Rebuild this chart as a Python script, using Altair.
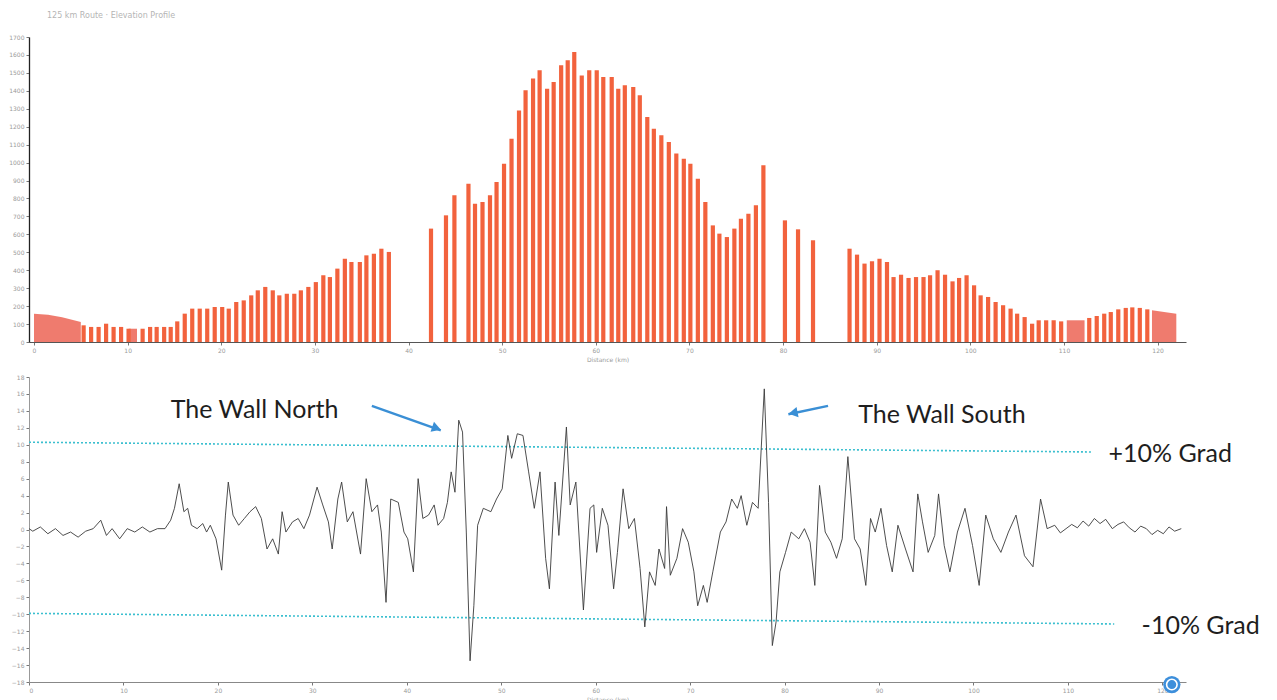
import altair as alt
import pandas as pd

# ---------------- elevation profile (top) ----------------
bar_km = [5.3, 6.1, 6.9, 7.7, 8.5, 9.3, 10.1, 11.6, 12.4, 13.1,
          13.9, 14.6, 15.3, 16.1, 16.9, 17.7, 18.5, 19.3, 20.1, 20.8,
          21.6, 22.4, 23.2, 23.9, 24.7, 25.5, 26.2, 27.0, 27.8, 28.5,
          29.3, 30.1, 30.9, 31.6, 32.4, 33.2, 33.9, 34.8, 35.5, 36.3,
          37.1, 37.9,
          42.4, 44.0, 44.9, 46.4, 47.1, 47.9, 48.7, 49.4, 50.2, 51.0,
          51.8, 52.5, 53.3, 54.0, 54.8, 55.5, 56.3, 57.0, 57.7, 58.5,
          59.3, 60.1, 60.8, 61.7, 62.4, 63.1, 64.0, 64.7, 65.5, 66.2,
          67.0, 67.8, 68.6, 69.4, 70.1, 70.9, 71.7, 72.5, 73.2, 74.0,
          74.8, 75.5, 76.3, 77.1, 77.9,
          80.2, 81.6, 83.2,
          87.1, 87.9, 88.7, 89.5, 90.3, 91.1, 91.8, 92.6, 93.4, 94.2,
          95.0, 95.7, 96.5, 97.3, 98.1, 98.8, 99.6, 100.4, 101.1, 101.9,
          102.7, 103.5, 104.3, 105.0, 105.8, 106.6, 107.3, 108.1, 108.9, 109.7,
          112.7, 113.5, 114.3, 115.0, 115.8, 116.6, 117.3, 118.1, 118.9]
bar_elev = [93, 84, 84, 102, 84, 84, 74, 74, 84, 84,
            84, 84, 115, 158, 186, 186, 186, 195, 195, 186,
            223, 232, 260, 288, 307, 288, 260, 269, 269, 288,
            307, 334, 372, 362, 409, 464, 446, 446, 483, 492,
            520, 502,
            632, 706, 818, 882, 771, 780, 818, 892, 994, 1133,
            1291, 1403, 1468, 1514, 1412, 1449, 1542, 1570, 1616, 1486,
            1514, 1514, 1477, 1477, 1412, 1431, 1421, 1375, 1254, 1189,
            1152, 1115, 1050, 1022, 994, 910, 780, 650, 604, 585,
            632, 687, 715, 762, 985,
            678, 628, 567,
            520, 487, 437, 450, 464, 446, 362, 375, 357, 362,
            362, 372, 400, 375, 338, 357, 372, 316, 260, 251,
            223, 205, 186, 158, 139, 102, 121, 121, 121, 115,
            134, 145, 158, 167, 182, 190, 193, 190, 182]

solid_seg = ["a", "a", "a", "a", "b", "b", "c", "c", "d", "d"]
solid_km = [0.0, 1.5, 3.0, 5.0, 10.1, 11.0, 110.3, 112.2, 119.4, 122.0]
solid_elev = [158, 152, 138, 112, 74, 74, 121, 121, 177, 158]

# ---------------- gradient (bottom) ----------------
grad_km = [0.0, 0.4, 1.2, 2.0, 2.8, 3.6, 4.4, 5.2, 6.0, 6.8,
           7.6, 8.2, 8.8, 9.6, 10.4, 11.2, 12.0, 12.8, 13.6, 14.4,
           15.0, 15.4, 15.9, 16.4, 16.8, 17.2, 17.8, 18.4, 18.8, 19.2,
           19.8, 20.4, 20.8, 21.1, 21.6, 22.2, 22.8, 23.4, 24.0, 24.6,
           25.2, 25.8, 26.4, 26.8, 27.2, 27.9, 28.5, 29.1, 29.7, 30.5,
           31.1, 31.7, 32.1, 32.7, 33.1, 33.7, 34.3, 35.1, 35.7, 36.3,
           36.9, 37.3, 37.8, 38.3, 39.1, 39.7, 40.1, 40.7, 41.2, 41.7,
           42.3, 42.9, 43.3, 43.9, 44.3, 44.7, 45.1, 45.5, 45.9, 46.3,
           46.7, 47.1, 47.5, 48.1, 48.9, 49.5, 50.1, 50.7, 51.1, 51.7,
           52.3, 52.9, 53.5, 54.1, 54.7, 55.1, 55.7, 56.1, 56.9, 57.3,
           57.9, 58.7, 59.4, 59.8,
           60.1, 60.7, 61.3, 61.9, 62.3, 62.9, 63.5, 64.1, 64.7, 65.2,
           65.7, 66.3, 66.7, 67.3, 67.5, 67.9, 68.6, 69.2, 69.8, 70.4,
           70.8, 71.4, 71.8, 72.4, 73.2, 73.8, 74.4, 75.0, 75.4, 76.0,
           76.6, 77.2, 77.85, 78.3, 78.7, 79.1, 79.5, 80.1, 80.7, 81.5,
           82.1, 82.7, 83.2, 83.7, 84.3, 84.9, 85.5, 86.1, 86.7, 87.4,
           88.0, 88.6, 89.1, 89.6, 90.2, 90.8, 91.4, 92.0, 92.8, 93.6,
           94.1, 94.6, 95.2, 95.9, 96.3, 96.9, 97.5, 98.3, 99.1, 99.9,
           100.6, 101.3, 102.1, 102.9, 103.7, 104.5, 105.4, 106.3, 107.1, 107.8,
           108.6, 109.2, 109.8, 110.4, 111.0, 111.6, 112.2, 112.8, 113.4, 114.0,
           114.7, 115.3, 115.9, 116.5, 117.1, 117.7, 118.3, 118.9, 119.5, 120.1,
           120.7, 121.3, 122.0]
grad_pct = [0.1, -0.2, 0.3, -0.5, 0.1, -0.7, -0.3, -0.9, -0.2, 0.1,
            1.1, -0.7, 0.1, -1.1, 0.1, -0.3, 0.3, -0.3, 0.1, 0.1,
            1.1, 2.5, 5.4, 2.1, 2.5, 0.5, 0.1, 0.7, -0.3, 0.5,
            -1.1, -4.8, 1.7, 5.6, 1.7, 0.5, 1.3, 2.1, 2.7, 1.3,
            -2.3, -1.1, -2.9, 2.1, -0.3, 0.9, 1.3, 0.1, 1.7, 5.0,
            2.9, 0.9, -2.3, 3.6, 5.6, 0.9, 2.1, -2.9, 6.0, 2.1,
            2.9, -0.3, -8.6, 3.6, 3.2, -0.3, -1.1, -5.0, 6.0, 1.3,
            1.7, 2.9, 0.5, 1.3, 3.2, 6.8, 4.4, 12.9, 11.5, -0.3,
            -15.5, -9.0, 0.5, 2.5, 2.1, 3.6, 4.8, 11.1, 8.4, 11.3,
            11.1, 6.8, 2.5, 6.8, -3.4, -7.0, 5.6, -0.7, 12.1, 2.9,
            5.6, -9.5, 2.5, 2.9,
            -2.7, 2.5, 0.5, -7.0, -2.7, 4.8, 0.1, 1.3, -4.6, -11.5,
            -5.0, -6.6, -2.3, -4.6, 2.7, -5.4, -3.4, 0.1, -1.5, -5.0,
            -9.0, -6.6, -8.6, -5.0, -0.3, 0.9, 3.6, 2.5, 4.0, 0.5,
            3.2, 2.5, 16.6, 3.2, -13.7, -10.9, -5.0, -2.7, -0.3, -1.1,
            0.1, -1.5, -6.6, 5.2, -0.3, -1.5, -3.4, -1.1, 8.6, -1.1,
            -2.3, -6.6, 1.3, -0.3, 2.5, -1.9, -5.0, 0.5, -2.3, -5.0,
            4.2, 0.9, -2.7, -0.7, 4.2, -1.9, -5.0, -0.3, 2.5, -1.9,
            -6.6, 1.7, -1.1, -2.7, -0.3, 1.7, -3.1, -4.4, 3.6, 0.1,
            0.5, -0.4, 0.1, 0.6, 0.2, 1.0, 0.4, 1.3, 0.7, 1.2,
            0.1, 0.6, 0.9, 0.2, -0.3, 0.4, 0.1, -0.6, -0.1, -0.5,
            0.3, -0.2, 0.1]

# ±10 % guide lines (as drawn, slightly skewed on the scan)
guide_km0 = [0.0, 0.0]
guide_km1 = [112.5, 114.9]
guide_p0 = [10.3, -9.9]
guide_p1 = [9.15, -11.15]

note_text = ["The Wall North", "The Wall South", "+10% Grad", "-10% Grad"]
note_km = [15.0, 87.8, 114.3, 117.8]
note_pct = [14.1, 13.5, 8.9, -11.4]

arrow_km0 = [36.3, 84.6]
arrow_p0 = [14.6, 14.6]
arrow_km1 = [43.6, 80.4]
arrow_p1 = [11.7, 13.6]
arrow_head_km = [43.15, 80.9]
arrow_head_p = [11.95, 13.75]
arrow_angle = [19, 169]

icon_km = [121.0]
icon_p = [-18.3]

bars = pd.DataFrame({"km": bar_km, "elev": bar_elev})
solid = pd.DataFrame({"seg": solid_seg, "km": solid_km, "elev": solid_elev})
grad = pd.DataFrame({"km": grad_km, "pct": grad_pct})
guides = pd.DataFrame({"km": guide_km0, "km1": guide_km1, "pct": guide_p0, "p1": guide_p1})
notes = pd.DataFrame({"text": note_text, "km": note_km, "pct": note_pct})
arrows = pd.DataFrame({"km": arrow_km0, "pct": arrow_p0, "km1": arrow_km1, "p1": arrow_p1,
                       "hk": arrow_head_km, "hp": arrow_head_p, "ang": arrow_angle})
icon = pd.DataFrame({"km": icon_km, "pct": icon_p})

X_MAX = 122.5
W = 1157
H = 305
xs = alt.Scale(domain=[0, X_MAX], nice=False, zero=False)
ys_top = alt.Scale(domain=[0, 1700], nice=False)
ys_bot = alt.Scale(domain=[-18, 18], nice=False)

LAB = dict(labelFontSize=6, labelColor="#9a9a9a", tickColor="#777", tickSize=3,
           labelPadding=2, grid=False, titleFontSize=6, titleColor="#9a9a9a",
           titleFontWeight="normal", titlePadding=3, labelFont="DejaVu Sans",
           titleFont="DejaVu Sans", format="d")

x_top_axis = alt.Axis(values=list(range(0, 121, 10)), domainColor="#555", **LAB)
y_top_axis = alt.Axis(values=list(range(0, 1701, 100)), domainColor="#222", domainWidth=1.3, **LAB)
x_bot_axis = alt.Axis(values=list(range(0, 121, 10)), domainColor="#888", **LAB)
y_bot_axis = alt.Axis(values=list(range(-18, 19, 2)), domainColor="#999", **LAB)

XT = "Distance (km)"


def xt(field="km:Q"):
    return alt.X(field, scale=xs, axis=x_top_axis, title=XT)


def yt(field="elev:Q"):
    return alt.Y(field, scale=ys_top, axis=y_top_axis, title=None, stack=None)


def xb(field="km:Q"):
    return alt.X(field, scale=xs, axis=x_bot_axis, title=XT)


def yb(field="pct:Q"):
    return alt.Y(field, scale=ys_bot, axis=y_bot_axis, title=None)


# top chart
solid_layer = alt.Chart(solid).mark_area(color="#ee7466", opacity=0.95).encode(
    x=xt(), y=yt(), detail="seg:N",
)
bar_layer = alt.Chart(bars).mark_bar(size=4.2, color="#f2623d").encode(
    x=xt(), y=yt(),
)
top = alt.layer(solid_layer, bar_layer).properties(
    width=W, height=H,
    title=alt.TitleParams("125 km Route \u00b7 Elevation Profile", anchor="start", frame="group",
                          fontSize=8, color="#b5b5b5", fontWeight="normal", offset=14, dx=18,
                          font="DejaVu Sans"),
)

# bottom chart
guide_layer = alt.Chart(guides).mark_rule(color="#3bbfcf", strokeDash=[2, 2], strokeWidth=1.6).encode(
    x=xb(), x2="km1:Q", y=yb(), y2="p1:Q",
)
line_layer = alt.Chart(grad).mark_line(color="#3a3a3a", strokeWidth=0.9).encode(
    x=xb(), y=yb(),
)
arrow_shaft = alt.Chart(arrows).mark_rule(color="#3a8fd5", strokeWidth=2.4).encode(
    x=xb(), x2="km1:Q", y=yb(), y2="p1:Q",
)
arrow_head = alt.Chart(arrows).mark_point(shape="triangle-right", filled=True, color="#3a8fd5",
                                          size=110, opacity=1).encode(
    x=xb("hk:Q"), y=yb("hp:Q"),
    angle=alt.Angle("ang:Q", scale=None),
)
note_layer = alt.Chart(notes).mark_text(align="left", baseline="middle", font="Lato",
                                        fontSize=25, color="#1e1e1e").encode(
    x=xb(), y=yb(), text="text:N",
)
icon_outer = alt.Chart(icon).mark_point(shape="circle", filled=True, color="#3d8fdb", size=300,
                                        opacity=1).encode(x=xb(), y=yb())
icon_ring = alt.Chart(icon).mark_point(shape="circle", filled=False, color="white", size=110,
                                       strokeWidth=1.6, opacity=1).encode(x=xb(), y=yb())

bottom = alt.layer(guide_layer, line_layer, arrow_shaft, arrow_head, note_layer,
                   icon_outer, icon_ring).properties(width=W, height=H)

chart = alt.vconcat(top, bottom, spacing=35, bounds="flush").properties(
    padding={"left": 0, "top": 4, "right": 5, "bottom": 2},
    background="white",
).configure_view(stroke=None)

chart.save("out.html", embed_options={"renderer": "svg", "actions": False})
